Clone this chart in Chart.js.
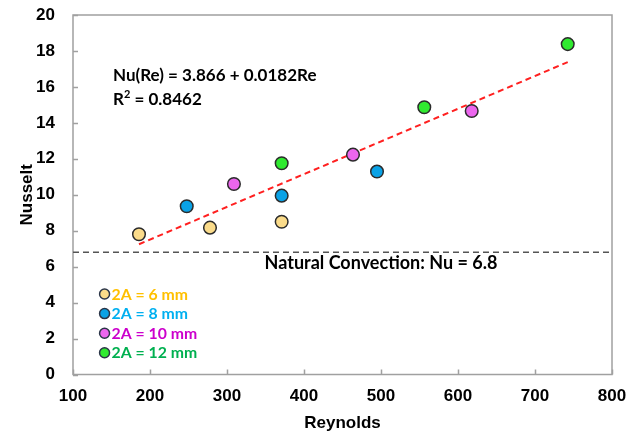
<!DOCTYPE html>
<html>
<head>
<meta charset="utf-8">
<script src="https://cdn.jsdelivr.net/npm/chart.js@4.4.1/dist/chart.umd.min.js"></script>
<style>
  html, body { margin: 0; padding: 0; background: #fff; }
  #wrap { width: 629px; height: 437px; position: relative; }
</style>
</head>
<body>
<div id="wrap"><canvas id="c" width="629" height="437"></canvas></div>
<script>
// Nusselt vs Reynolds, one series per slot width 2A
const seriesLabels = ['2A = 6 mm', '2A = 8 mm', '2A = 10 mm', '2A = 12 mm'];
const re6  = [185.7, 277.9, 371.0];
const nu6  = [7.80, 8.17, 8.50];
const re8  = [247.7, 371.0, 494.8];
const nu8  = [9.36, 9.95, 11.29];
const re10 = [309.0, 463.6, 617.8];
const nu10 = [10.60, 12.23, 14.66];
const re12 = [371.0, 556.2, 742.5];
const nu12 = [11.75, 14.87, 18.38];

// linear fit Nu(Re) = a + b*Re, drawn over the measured Re range
const fitIntercept = 3.866;
const fitSlope = 0.0182;
const fitR2 = 0.8462;
const fitRange = [185.7, 742.5];

// natural convection reference level
const natConvNu = 6.8;

const xTicks = [100, 200, 300, 400, 500, 600, 700, 800];
const yTicks = [0, 2, 4, 6, 8, 10, 12, 14, 16, 18, 20];

const fills = ['#FADB8A', '#0AA2E6', '#EC66EE', '#30EA30'];
const textColors = ['#FFC000', '#00B0F0', '#CC00CC', '#00B050'];
const calFont = 'Lato, "Open Sans", sans-serif';

function pts(xs, ys) { return xs.map((x, i) => ({ x: x, y: ys[i] })); }

const scatterSets = [[re6, nu6], [re8, nu8], [re10, nu10], [re12, nu12]].map((s, i) => ({
  type: 'scatter',
  label: seriesLabels[i],
  data: pts(s[0], s[1]),
  backgroundColor: fills[i],
  borderColor: '#2b2b2b',
  borderWidth: 1.5,
  pointRadius: 6.3,
  pointHoverRadius: 6.3,
  order: 1
}));

const fitLine = {
  type: 'line',
  label: 'fit',
  data: fitRange.map(x => ({ x: x, y: fitIntercept + fitSlope * x })),
  borderColor: '#FF2020',
  borderWidth: 2,
  borderDash: [6, 4],
  pointRadius: 0,
  fill: false,
  order: 2
};

const natLine = {
  type: 'line',
  label: 'natural',
  data: [{ x: xTicks[0], y: natConvNu }, { x: xTicks[xTicks.length - 1], y: natConvNu }],
  borderColor: '#555555',
  borderWidth: 1.5,
  borderDash: [6, 4],
  pointRadius: 0,
  fill: false,
  order: 3
};

// frame, inward ticks, annotations and legend
const decor = {
  id: 'decor',
  beforeDatasetsDraw(chart) {
    const { ctx, chartArea: a, scales } = chart;
    ctx.save();
    ctx.strokeStyle = '#A0A0A0';
    ctx.lineWidth = 1.5;
    ctx.strokeRect(a.left, a.top, a.right - a.left, a.bottom - a.top);
    ctx.beginPath();
    xTicks.forEach(v => {
      const px = Math.round(scales.x.getPixelForValue(v)) + 0.5;
      ctx.moveTo(px, a.bottom); ctx.lineTo(px, a.bottom - 5);
    });
    yTicks.forEach(v => {
      const py = Math.round(scales.y.getPixelForValue(v)) + 0.5;
      ctx.moveTo(a.left, py); ctx.lineTo(a.left + 5, py);
    });
    ctx.stroke();
    ctx.restore();
  },
  afterDatasetsDraw(chart) {
    const { ctx, scales } = chart;
    ctx.save();
    ctx.fillStyle = '#000';
    ctx.font = 'bold 17px ' + calFont;
    ctx.textBaseline = 'middle';
    ctx.textAlign = 'left';
    const ex = scales.x.getPixelForValue(152);
    ctx.fillText('Nu(Re) = ' + fitIntercept.toFixed(3) + ' + ' + fitSlope + 'Re', ex, scales.y.getPixelForValue(16.65));
    const r2y = scales.y.getPixelForValue(15.3);
    ctx.fillText('R', ex, r2y);
    const rw = ctx.measureText('R').width;
    ctx.font = 'bold 11px ' + calFont;
    ctx.fillText('2', ex + rw, r2y - 5);
    const sw = ctx.measureText('2').width;
    ctx.font = 'bold 17px ' + calFont;
    ctx.fillText(' = ' + fitR2, ex + rw + sw, r2y);

    ctx.font = 'bold 18px ' + calFont;
    ctx.textAlign = 'center';
    ctx.fillText('Natural Convection: Nu = ' + natConvNu, scales.x.getPixelForValue(500), scales.y.getPixelForValue(6.2));

    // legend
    const lx = scales.x.getPixelForValue(141);
    seriesLabels.forEach((lab, i) => {
      const ly = 294 + i * 19.6;
      ctx.beginPath();
      ctx.arc(lx, ly, 5, 0, Math.PI * 2);
      ctx.fillStyle = fills[i];
      ctx.fill();
      ctx.lineWidth = 1.5;
      ctx.strokeStyle = '#2b3548';
      ctx.stroke();
      ctx.font = 'bold 15.8px ' + calFont;
      ctx.textAlign = 'left';
      ctx.fillStyle = textColors[i];
      ctx.fillText(lab, lx + 7, ly + 0.5);
    });
    ctx.restore();
  }
};

new Chart(document.getElementById('c'), {
  data: { datasets: [natLine, fitLine].concat(scatterSets) },
  options: {
    responsive: false,
    animation: false,
    layout: { padding: { top: 15, right: 17, left: 0, bottom: 0 } },
    plugins: { legend: { display: false }, tooltip: { enabled: false } },
    scales: {
      x: {
        type: 'linear',
        min: 100, max: 800,
        afterFit(s) { s.height = 62.5; s.paddingLeft = 0; s.paddingRight = 0; },
        afterBuildTicks(s) { s.ticks = xTicks.map(v => ({ value: v })); },
        grid: { display: false },
        border: { display: false },
        ticks: { color: '#000', font: { family: 'Liberation Sans, Arial', size: 17, weight: 'bold' }, padding: 4, maxRotation: 0 },
        title: { display: true, text: 'Reynolds', color: '#000', font: { family: 'Liberation Sans, Arial', size: 17, weight: 'bold' }, padding: { top: 0, bottom: 3 } }
      },
      y: {
        type: 'linear',
        min: 0, max: 20,
        afterFit(s) { s.width = 73; s.paddingTop = 0; s.paddingBottom = 0; },
        afterBuildTicks(s) { s.ticks = yTicks.map(v => ({ value: v })); },
        grid: { display: false },
        border: { display: false },
        ticks: { color: '#000', font: { family: 'Liberation Sans, Arial', size: 17, weight: 'bold' }, padding: 10 },
        title: { display: true, text: 'Nusselt', color: '#000', font: { family: 'Liberation Sans, Arial', size: 17, weight: 'bold' }, padding: { top: 17, bottom: 0 } }
      }
    }
  },
  plugins: [decor]
});
</script>
</body>
</html>
